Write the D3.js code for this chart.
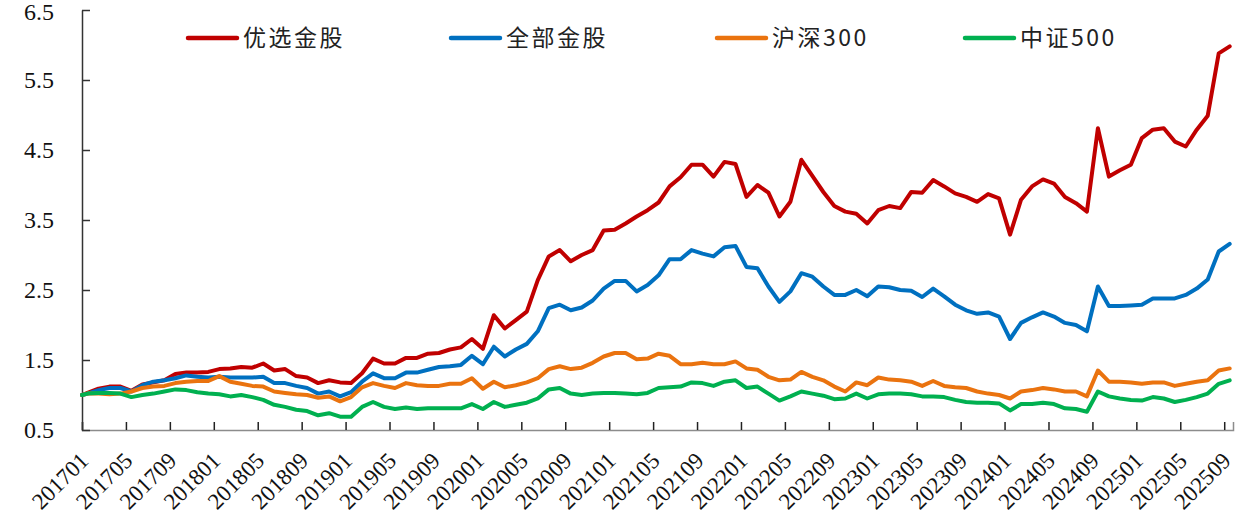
<!DOCTYPE html>
<html><head><meta charset="utf-8">
<script src="https://cdn.jsdelivr.net/npm/d3@7"></script>
<style>body{margin:0;background:#fff} svg{display:block}</style>
</head><body>
<svg id="chart" width="1251" height="528"></svg>
<script>
// ---- data ----
const seriesNames = ["优选金股", "全部金股", "沪深300", "中证500"];
const seriesColors = ["#C00000", "#0070C0", "#EA730F", "#00B050"];
const tickLabels = ["201701","201705","201709","201801","201805","201809","201901","201905","201909",
  "202001","202005","202009","202101","202105","202109","202201","202205","202209",
  "202301","202305","202309","202401","202405","202409","202501","202505","202509"];
const yTicks = [0.5, 1.5, 2.5, 3.5, 4.5, 5.5, 6.5];
// first value = base (start), then month-end values 201701..202509
const youxuan = [1.00,
  1.03,1.09,1.12,1.12,1.06,1.15,1.18,1.21,1.30,1.32,
  1.32,1.33,1.37,1.38,1.40,1.39,1.45,1.35,1.37,1.27,
  1.25,1.17,1.21,1.18,1.17,1.31,1.52,1.45,1.45,1.53,
  1.53,1.59,1.60,1.65,1.68,1.80,1.66,2.14,1.95,2.07,
  2.19,2.64,2.98,3.07,2.91,3.00,3.07,3.35,3.36,3.45,
  3.55,3.64,3.75,3.98,4.11,4.29,4.29,4.12,4.33,4.30,
  3.83,4.00,3.89,3.55,3.76,4.36,4.13,3.90,3.70,3.62,
  3.59,3.45,3.64,3.70,3.67,3.90,3.89,4.07,3.98,3.88,
  3.83,3.76,3.87,3.81,3.29,3.79,3.98,4.08,4.02,3.83,
  3.74,3.62,4.81,4.12,4.21,4.29,4.67,4.79,4.81,4.62,
  4.55,4.79,4.99,5.88,5.98];
const quanbu = [1.00,
  1.02,1.07,1.10,1.10,1.05,1.14,1.19,1.21,1.24,1.28,
  1.26,1.25,1.26,1.25,1.25,1.25,1.26,1.17,1.17,1.13,
  1.10,1.02,1.05,0.98,1.04,1.19,1.31,1.24,1.24,1.32,
  1.32,1.36,1.40,1.41,1.43,1.56,1.44,1.69,1.55,1.65,
  1.73,1.91,2.24,2.29,2.21,2.25,2.35,2.52,2.63,2.63,
  2.48,2.57,2.71,2.94,2.94,3.07,3.02,2.98,3.11,3.13,
  2.83,2.81,2.55,2.33,2.48,2.74,2.69,2.55,2.43,2.43,
  2.50,2.41,2.55,2.54,2.50,2.49,2.40,2.52,2.41,2.29,
  2.21,2.16,2.18,2.12,1.80,2.03,2.11,2.18,2.12,2.03,
  2.00,1.91,2.55,2.27,2.27,2.28,2.29,2.38,2.38,2.38,
  2.43,2.52,2.65,3.05,3.16];
const hs300 = [1.00,
  1.02,1.02,1.01,1.02,1.05,1.10,1.12,1.13,1.17,1.19,
  1.20,1.20,1.27,1.19,1.16,1.13,1.12,1.05,1.03,1.01,
  1.00,0.96,0.98,0.91,0.97,1.11,1.17,1.13,1.10,1.17,
  1.14,1.13,1.13,1.16,1.16,1.24,1.09,1.19,1.11,1.14,
  1.18,1.24,1.37,1.41,1.37,1.39,1.46,1.55,1.60,1.60,
  1.51,1.52,1.59,1.56,1.44,1.44,1.46,1.44,1.44,1.48,
  1.38,1.36,1.26,1.21,1.22,1.33,1.26,1.21,1.12,1.05,
  1.18,1.14,1.25,1.22,1.21,1.19,1.13,1.20,1.13,1.11,
  1.10,1.05,1.02,1.00,0.95,1.05,1.07,1.10,1.08,1.05,
  1.05,0.98,1.35,1.19,1.19,1.18,1.16,1.18,1.18,1.13,
  1.16,1.19,1.21,1.35,1.38];
const zz500 = [1.00,
  1.02,1.03,1.03,1.02,0.97,1.00,1.02,1.05,1.08,1.07,
  1.04,1.02,1.01,0.98,1.00,0.97,0.93,0.86,0.83,0.79,
  0.77,0.71,0.74,0.69,0.69,0.83,0.90,0.83,0.80,0.82,
  0.80,0.81,0.81,0.81,0.81,0.87,0.80,0.90,0.83,0.86,
  0.89,0.95,1.08,1.10,1.02,1.00,1.02,1.03,1.03,1.02,
  1.01,1.03,1.10,1.11,1.12,1.18,1.17,1.13,1.19,1.21,
  1.10,1.12,1.02,0.92,0.98,1.05,1.02,0.99,0.94,0.95,
  1.02,0.95,1.01,1.02,1.02,1.01,0.98,0.98,0.97,0.93,
  0.90,0.89,0.89,0.88,0.78,0.87,0.87,0.89,0.87,0.81,
  0.80,0.76,1.05,0.98,0.95,0.93,0.92,0.97,0.95,0.90,
  0.93,0.97,1.02,1.16,1.21];
const seriesValues = [youxuan, quanbu, hs300, zz500];

// ---- chart ----
const svg = d3.select("#chart");
const x = d3.scaleLinear().domain([0, 104.8]).range([82, 1233]);
const y = d3.scaleLinear().domain([0.5, 6.5]).range([430, 10]);
// base point sits at month 0; month-end value i sits mid-month (i - 0.5)
const pos = i => (i === 0 ? 0 : i - 0.5);

// x axis
const xTickPos = tickLabels.map((d, i) => i * 4);
const xAxis = svg.append("g").attr("transform", "translate(0,430)")
  .call(d3.axisBottom(x).tickValues(xTickPos).tickSize(-8).tickFormat(""));
xAxis.select(".domain").attr("stroke", "#8c8c8c").attr("stroke-width", 1.5);
xAxis.selectAll(".tick line").attr("stroke", "#222").attr("stroke-width", 1.5);

svg.append("g").selectAll("text").data(tickLabels).join("text")
  .attr("transform", (d, i) => `translate(${x(i * 4) + 8},462) rotate(-45)`)
  .attr("text-anchor", "end")
  .attr("font-family", "'Liberation Serif','Times New Roman',serif")
  .attr("font-size", 23).attr("fill", "#111")
  .text(d => d);

// y axis
const yAxis = svg.append("g").attr("transform", "translate(82,0)")
  .call(d3.axisLeft(y).tickValues(yTicks).tickSize(-8).tickSizeOuter(0).tickFormat(""));
yAxis.select(".domain").attr("stroke", "#333").attr("stroke-width", 1.5);
yAxis.selectAll(".tick line").attr("stroke", "#333").attr("stroke-width", 1.5);

svg.append("g").selectAll("text").data(yTicks).join("text")
  .attr("x", 54).attr("y", d => Math.max(y(d), 12)).attr("dy", "0.35em")
  .attr("text-anchor", "end")
  .attr("font-family", "'Liberation Serif','Times New Roman',serif")
  .attr("font-size", 24).attr("fill", "#111")
  .text(d => d3.format(".1f")(d));

// lines
const line = d3.line().x((d, i) => x(pos(i))).y(d => y(d));
svg.append("g").selectAll("path").data(seriesValues).join("path")
  .attr("d", d => line(d))
  .attr("fill", "none")
  .attr("stroke", (d, i) => seriesColors[i])
  .attr("stroke-width", 4)
  .attr("stroke-linejoin", "round")
  .attr("stroke-linecap", "round");

// legend
const legendX = [188, 451, 717, 965];
const lg = svg.append("g").selectAll("g").data(seriesNames).join("g")
  .attr("transform", (d, i) => `translate(${legendX[i]},38)`);
lg.append("line").attr("x1", 0).attr("x2", 49).attr("y1", 0).attr("y2", 0)
  .attr("stroke", (d, i) => seriesColors[i]).attr("stroke-width", 4.5).attr("stroke-linecap", "round");
lg.append("text").attr("x", 55).attr("dy", "0.36em")
  .attr("font-family", "'Noto Sans CJK SC','Noto Sans',sans-serif")
  .attr("font-size", 23).attr("letter-spacing", "2.5px").attr("fill", "#222")
  .text(d => d);
</script>
</body></html>
